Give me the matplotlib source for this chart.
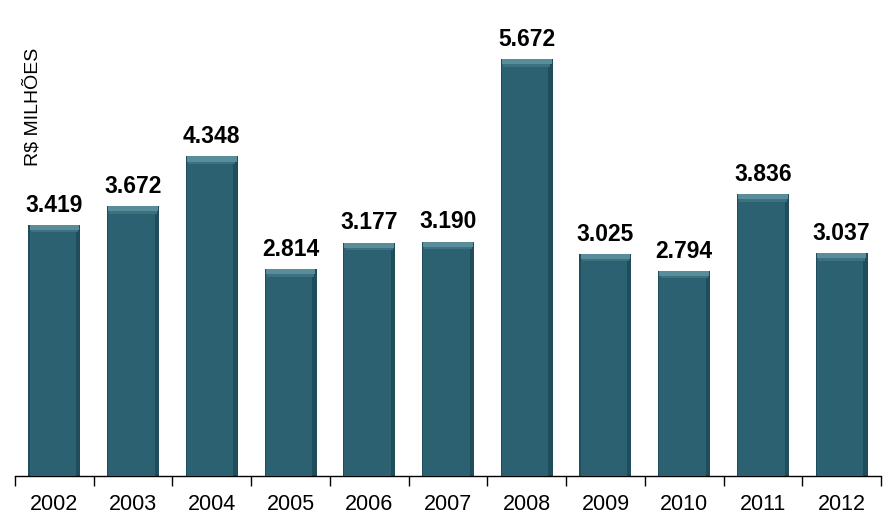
import matplotlib.pyplot as plt
import numpy as np

plt.rcParams['font.family'] = ['Liberation Sans', 'DejaVu Sans']

years = ['2002', '2003', '2004', '2005', '2006', '2007', '2008', '2009', '2010', '2011', '2012']
values = [3419, 3672, 4348, 2814, 3177, 3190, 5672, 3025, 2794, 3836, 3037]
labels = ['3.419', '3.672', '4.348', '2.814', '3.177', '3.190', '5.672', '3.025', '2.794', '3.836', '3.037']

fig = plt.figure(figsize=(8.86, 5.25), dpi=100)
ax = fig.add_axes([0.0169, 0.0933, 0.9775, 0.84])

x = np.arange(len(years))
w = 0.66
vals = np.array(values)

# main bar body with darker sides
ax.bar(x, vals, width=w, color='#1f4d5b', zorder=2)
ax.bar(x - 0.02, vals - 60, width=w - 0.07, color='#2b6171', zorder=3)
# top bevel highlight
ax.bar(x, 70, bottom=vals - 70, width=w - 0.03, color='#5a8d9a', zorder=4)
ax.bar(x, 35, bottom=vals - 105, width=w - 0.06, color='#3b7181', zorder=4)

for xi, v, lab in zip(x, vals, labels):
    ax.text(xi, v + 110, lab, ha='center', va='bottom', fontsize=16.5,
            fontweight='bold', color='black')

ax.set_xlim(-0.5, len(years) - 0.5)
ax.set_ylim(0, 6000)
ax.set_xticks(x)
ax.set_xticklabels(years, fontsize=15.5)
ax.set_xticks(np.arange(-0.5, len(years)), minor=True)
ax.tick_params(axis='x', which='major', length=0, pad=13)
ax.tick_params(axis='x', which='minor', length=7, width=1, color='black', direction='out')
ax.set_yticks([])
for s in ['top', 'right', 'left']:
    ax.spines[s].set_visible(False)
ax.spines['bottom'].set_color('black')
ax.spines['bottom'].set_linewidth(1)

fig.text(33 / 886, 1 - 48 / 525, 'R$ MILHÕES', rotation=90, ha='center', va='top', fontsize=14)

fig.savefig('out.png', dpi=100)
